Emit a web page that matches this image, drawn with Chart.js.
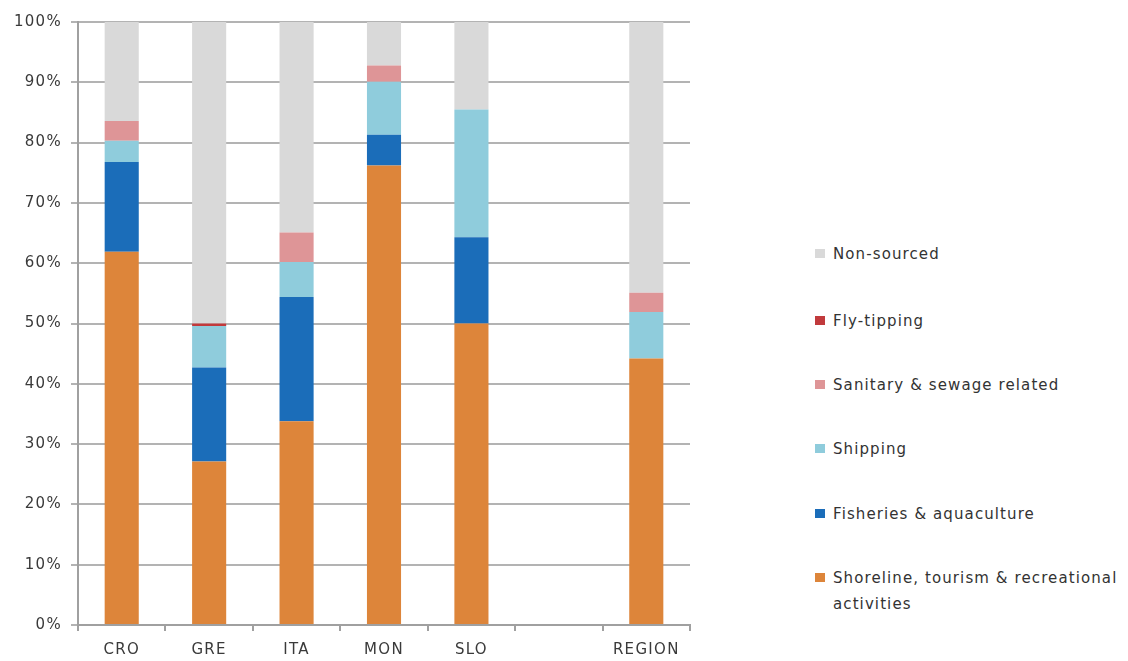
<!DOCTYPE html>
<html>
<head>
<meta charset="utf-8">
<script src="https://cdn.jsdelivr.net/npm/chart.js@4.4.1/dist/chart.umd.min.js"></script>
<style>
  html, body { margin: 0; padding: 0; background: #fff; }
  body { width: 1128px; height: 661px; position: relative; overflow: hidden; font-family: "DejaVu Sans", sans-serif; }
  #wrap { position: absolute; left: 0; top: 0; width: 700px; height: 661px; }
  #legend { position: absolute; left: 815px; top: 0; margin: 0; padding: 0; list-style: none; }
  #legend li { position: absolute; left: 0; white-space: nowrap; font-size: 15px; letter-spacing: 1.1px; line-height: 26px; color: #333; }
  #legend .box { position: absolute; left: 0; top: 8px; width: 10px; height: 9px; }
  #legend .txt { position: absolute; left: 18px; top: 0; }
</style>
</head>
<body>
<div id="wrap"><canvas id="chart"></canvas></div>
<ul id="legend"></ul>
<script>
// Share of litter items by source, per country and for the whole region (%)
const categories = ['CRO', 'GRE', 'ITA', 'MON', 'SLO', '', 'REGION'];
const shoreline  = [61.9, 27.1, 33.8, 76.2, 50.0, null, 44.2];
const fisheries  = [14.9, 15.6, 20.6,  5.1, 14.3, null,  0.0];
const shipping   = [ 3.5,  6.9,  5.8,  8.8, 21.2, null,  7.7];
const sanitary   = [ 3.3,  0.0,  4.9,  2.7,  0.0, null,  3.2];
const flyTipping = [ 0.0,  0.4,  0.0,  0.0,  0.0, null,  0.0];
const nonSourced = [16.4, 50.0, 34.9,  7.2, 14.5, null, 44.9];
const yTicks = [0, 10, 20, 30, 40, 50, 60, 70, 80, 90, 100];

const seriesNames = [
  ['Shoreline, tourism & recreational', 'activities'],
  ['Fisheries & aquaculture'],
  ['Shipping'],
  ['Sanitary & sewage related'],
  ['Fly-tipping'],
  ['Non-sourced']
];
const seriesData = [shoreline, fisheries, shipping, sanitary, flyTipping, nonSourced];
const seriesColors = ['#DD853A', '#1B6DB9', '#8FCCDC', '#DE9597', '#C13A3C', '#D9D9D9'];

const datasets = seriesData.map((d, i) => ({
  label: seriesNames[i].join(' '),
  data: d,
  backgroundColor: seriesColors[i],
  borderWidth: 0,
  categoryPercentage: 1.0,
  barPercentage: 0.39
}));

const tickFont = { family: '"DejaVu Sans", sans-serif', size: 15 };

// Slightly wider letter spacing for the axis labels
const spacedText = {
  id: 'spacedText',
  beforeDraw(chart) { chart.ctx.letterSpacing = '1.3px'; }
};

new Chart(document.getElementById('chart'), {
  type: 'bar',
  data: { labels: categories, datasets: datasets },
  plugins: [spacedText],
  options: {
    responsive: true,
    maintainAspectRatio: false,
    animation: false,
    layout: { padding: { top: 22, right: 10, left: 0, bottom: 0 } },
    plugins: { legend: { display: false }, tooltip: { enabled: false } },
    scales: {
      x: {
        stacked: true,
        grid: { drawOnChartArea: false, offset: true, tickLength: 6, color: '#A0A0A0', lineWidth: 2 },
        border: { color: '#A0A0A0', width: 2 },
        ticks: { color: '#3A3A3A', font: tickFont, padding: 10 },
        afterFit: s => { s.height = 36; }
      },
      y: {
        stacked: true,
        min: 0,
        max: 100,
        afterBuildTicks: s => { s.ticks = yTicks.map(v => ({ value: v })); },
        grid: { color: '#B3B3B3', lineWidth: 2, tickLength: 7 },
        border: { color: '#A0A0A0', width: 2 },
        ticks: { color: '#3A3A3A', font: tickFont, padding: 9, callback: v => v + '%' },
        afterFit: s => { s.width = 78; }
      }
    }
  }
});

// Legend, listed top to bottom in reverse stacking order
const legend = document.getElementById('legend');
const legendTops = [565, 501, 436, 372, 308, 241];
for (let i = seriesNames.length - 1; i >= 0; i--) {
  const li = document.createElement('li');
  li.style.top = legendTops[i] + 'px';
  const box = document.createElement('span');
  box.className = 'box';
  box.style.background = seriesColors[i];
  const txt = document.createElement('span');
  txt.className = 'txt';
  txt.innerHTML = seriesNames[i].map(t => t.replace(/&/g, '&amp;')).join('<br>');
  li.appendChild(box);
  li.appendChild(txt);
  legend.appendChild(li);
}
</script>
</body>
</html>
